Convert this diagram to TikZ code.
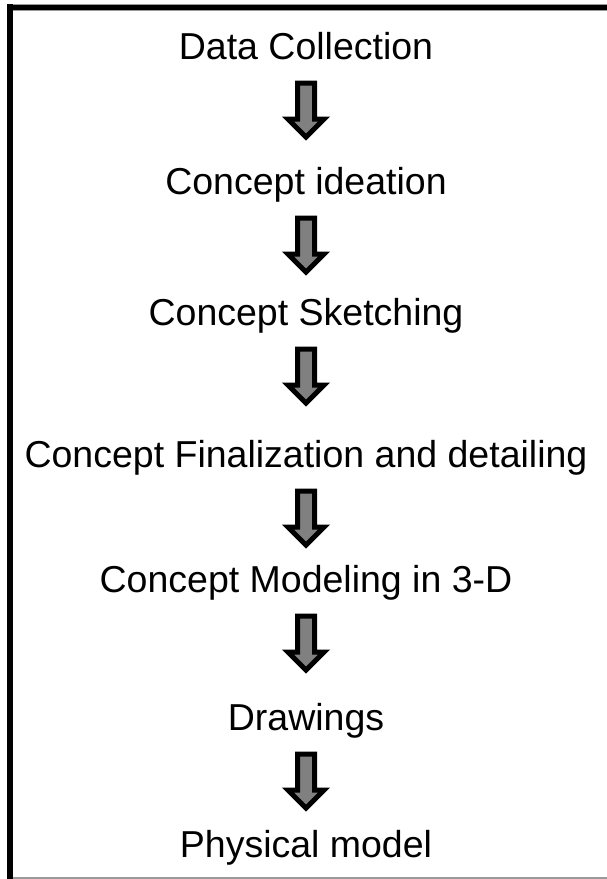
\documentclass[tikz,border=0pt]{standalone}
\usepackage{fontspec}
\setmainfont{Liberation Sans}
\usepackage{tikz}
\definecolor{arrowgray}{HTML}{808080}
\definecolor{rulegray}{HTML}{9A9A9A}
\usetikzlibrary{calc, positioning}

\begin{document}
\begin{tikzpicture}[
    x=1pt, y=-1pt,
    stage/.style={anchor=base, inner sep=0pt, text height=27pt, text depth=7pt,
        font=\fontsize{37.5}{42}\selectfont},
    bigarrow/.style={draw=black, fill=arrowgray, line width=5pt, miter limit=10,
        to path={let \p1=(\tikztostart), \p2=(\tikztotarget) in
            (\x1-8.5pt,\y1-17pt) -- (\x1+8.5pt,\y1-17pt) -- (\x1+8.5pt,\y1-53pt)
            -- (\x1+18pt,\y1-53pt) -- (\x2,\y1-71pt) -- (\x1-18pt,\y1-53pt)
            -- (\x1-8.5pt,\y1-53pt) -- cycle}},
]
\useasboundingbox (0,0) rectangle (607,879);
% frame
\fill[rulegray] (7,4) rectangle (607,11);
\fill[black] (7,5) rectangle (607,10.3);
\fill[black] (7,4) rectangle (13,879);
\draw[rulegray, line width=1.5pt] (13,878) -- (607,878);

\node[stage] (datacoll) at (306,59) {Data Collection};
\node[stage] (ideation) at (306,194) {Concept ideation};
\node[stage] (sketching) at (306,325) {Concept Sketching};
\node[stage] (finalize) at (306,467) {Concept Finalization and detailing};
\node[stage] (modeling) at (306,592) {Concept Modeling in 3-D};
\node[stage] (drawings) at (306,730) {Drawings};
\node[stage] (physical) at (306,857) {Physical model};

\draw[bigarrow] (datacoll.south) to (ideation.north);
\draw[bigarrow] (ideation.south) to (sketching.north);
\draw[bigarrow] (sketching.south) to (finalize.north);
\draw[bigarrow] (finalize.south) to (modeling.north);
\draw[bigarrow] (modeling.south) to (drawings.north);
\draw[bigarrow] (drawings.south) to (physical.north);
\end{tikzpicture}
\end{document}
